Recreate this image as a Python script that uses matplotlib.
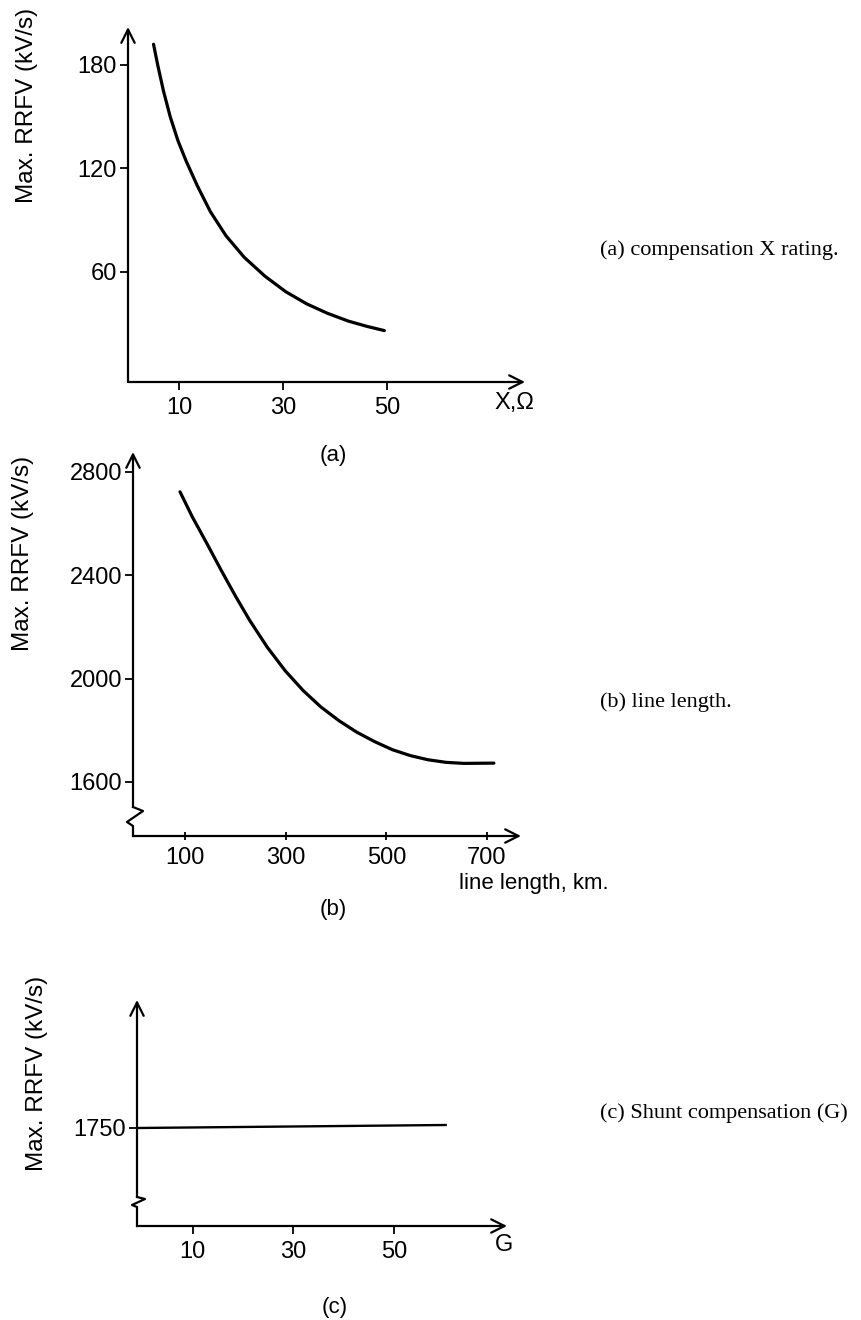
import numpy as np
import matplotlib.pyplot as plt

# values
a_x = [5.1, 5.9, 7.0, 8.3, 9.8, 11.4, 13.5, 16.0, 19.0, 22.5, 26.5, 30.5, 34.5, 38.5, 42.5, 46.0, 49.4]
a_y = [192, 180, 165, 150, 136, 124, 110, 95, 81, 68.5, 57.5, 48.5, 41.5, 36, 31.5, 28.5, 26]
a_xticks = [10, 30, 50]
a_yticks = [60, 120, 180]

b_x = [89.5, 114, 143, 171, 200, 228, 263, 299, 335, 370, 406, 441, 477, 512, 548, 583, 619, 654, 714]
b_y = [2723, 2626, 2523, 2421, 2319, 2226, 2122, 2030, 1953, 1890, 1837, 1793, 1756, 1725, 1702, 1686, 1676, 1672, 1673]
b_xticks = [100, 300, 500, 700]
b_yticks = [1600, 2000, 2400, 2800]

c_x = [-1, 60.3]
c_y = [1750, 1753]
c_xticks = [10, 30, 50]
c_yticks = [1750]

ylabel = 'Max. RRFV (kV/s)'
captions = ['(a) compensation X rating.', '(b) line length.', '(c) Shunt compensation (G)']

W, H = 862, 1320
SANS = 'Liberation Sans'
SERIF = 'Liberation Serif'
plt.rcParams['font.family'] = SANS

fig = plt.figure(figsize=(W / 100, H / 100), dpi=100)


def box(l, t, r, b):
    return [l / W, 1 - b / H, (r - l) / W, (b - t) / H]


def ftext(x, y, s, **kw):
    fig.text(x / W, 1 - y / H, s, **kw)


def arrow(ax, p0, p1):
    ax.annotate('', xy=p1, xytext=p0, xycoords='axes fraction',
                arrowprops=dict(arrowstyle='->', lw=1.6, color='black',
                                mutation_scale=24, shrinkA=0, shrinkB=0))


def setup(ax, xlim, ylim, xticks, yticks, xdir='out', brk=None):
    ax.set_xlim(*xlim)
    ax.set_ylim(*ylim)
    for s in ax.spines.values():
        s.set_visible(False)
    ax.set_xticks(xticks)
    ax.set_yticks(yticks)
    ax.tick_params(axis='y', direction='out', length=6, width=1.3, labelsize=17, pad=2)
    ax.tick_params(axis='x', direction=xdir, length=6, width=1.3, labelsize=17, pad=5)
    ax.patch.set_alpha(0)
    arrow(ax, (0, 0), (1, 0))
    if brk is None:
        arrow(ax, (0, 0), (0, 1))
    else:
        # axis break zigzag, offsets in pixels
        bbox = ax.get_position()
        wpx, hpx = bbox.width * W, bbox.height * H
        xs = [p[0] / wpx for p in brk]
        ys = [p[1] / hpx for p in brk]
        ax.plot(xs, ys, color='black', lw=1.6, transform=ax.transAxes, clip_on=False)
        arrow(ax, (xs[-1], ys[-1]), (xs[-1], 1))


# (a)
ax1 = fig.add_axes(box(128, 27, 525, 382))
setup(ax1, (0.2, 76.4), (-3.8, 202), a_xticks, a_yticks)
ax1.plot(a_x, a_y, color='black', lw=2.3, solid_capstyle='round')
ftext(514, 403, 'X,\u03a9', fontsize=17, ha='center', va='center')
ftext(27, 105, ylabel, fontsize=17.5, rotation=90, ha='center', va='center')
ftext(333, 455, '(a)', fontsize=16, ha='center', va='center')

# (b)
ax2 = fig.add_axes(box(133, 452, 521, 836))
setup(ax2, (-4, 768), (1391, 2877), b_xticks, b_yticks, xdir='inout',
      brk=[(0, 0), (0, 10), (-6, 14), (10, 25), (0, 29)])
ax2.plot(b_x, b_y, color='black', lw=2.3, solid_capstyle='round')
ftext(459, 883, 'line length, km.', fontsize=16, ha='left', va='center')
ftext(23, 553, ylabel, fontsize=17.5, rotation=90, ha='center', va='center')
ftext(333, 910, '(b)', fontsize=16, ha='center', va='center')

# (c)
ax3 = fig.add_axes(box(137, 1000, 507, 1226))
setup(ax3, (-1.1, 72.5), (1652, 1878), c_xticks, c_yticks,
      brk=[(0, 0), (0, 19), (-5, 21), (8, 27), (0, 29)])
ax3.plot(c_x, c_y, color='black', lw=1.7)
ftext(504, 1245, 'G', fontsize=17, ha='center', va='center')
ftext(37, 1073, ylabel, fontsize=17.5, rotation=90, ha='center', va='center')
ftext(335, 1307, '(c)', fontsize=16, ha='center', va='center')

# captions on the right
for cap, y in zip(captions, [250, 702, 1113]):
    ftext(600, y, cap, fontsize=16, family=SERIF, ha='left', va='center')

fig.savefig('out.png', dpi=100)
